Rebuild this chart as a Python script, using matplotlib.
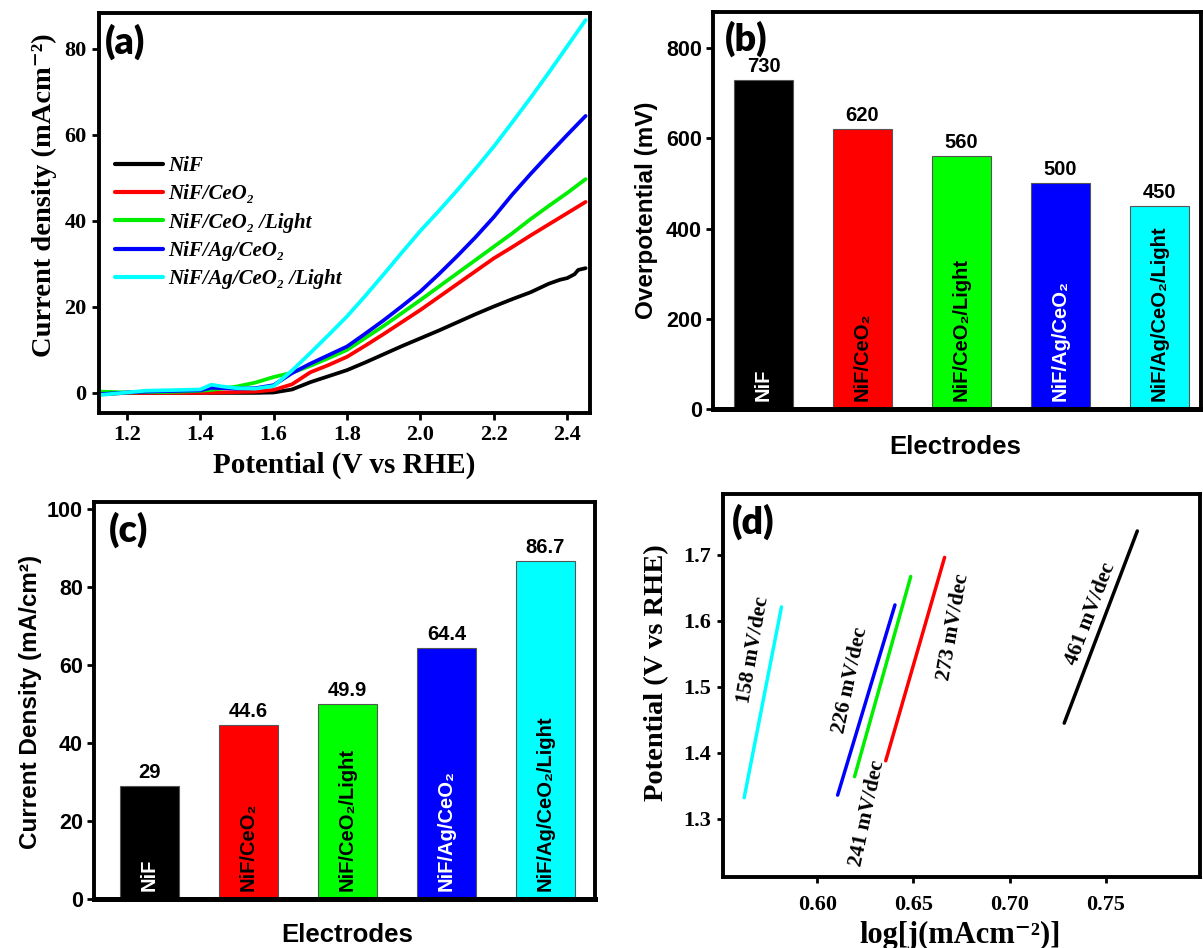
import matplotlib
matplotlib.use('Agg')
import matplotlib.pyplot as plt

# ---------------- data ----------------
series_labels = ['NiF', 'NiF/CeO₂', 'NiF/CeO₂ /Light', 'NiF/Ag/CeO₂', 'NiF/Ag/CeO₂ /Light']
series_colors = ['#000000', '#ff0000', '#00ee00', '#0000ff', '#00ffff']

potential = [1.125, 1.20, 1.25, 1.30, 1.35, 1.40, 1.43, 1.46, 1.50, 1.55,
             1.60, 1.65, 1.70, 1.75, 1.80, 1.85, 1.90, 1.95, 2.00, 2.05,
             2.10, 2.15, 2.20, 2.25, 2.30, 2.35, 2.40, 2.45]
potential_nif = [1.125, 1.20, 1.25, 1.30, 1.35, 1.40, 1.43, 1.46, 1.50, 1.55,
                 1.60, 1.65, 1.70, 1.75, 1.80, 1.85, 1.90, 1.95, 2.00, 2.05,
                 2.10, 2.15, 2.20, 2.25, 2.30, 2.35, 2.38, 2.40, 2.42, 2.43, 2.45]
j_nif = [-0.3, 0, 0, 0, 0, 0, 0, 0, 0, 0,
         0.1, 0.8, 2.5, 3.9, 5.3, 7.1, 9.0, 10.9, 12.7, 14.5,
         16.4, 18.3, 20.1, 21.8, 23.4, 25.4, 26.3, 26.7, 27.6, 28.6, 29.0]
j_ceo2 = [-0.2, 0, 0, 0, 0, 0, 0.05, 0.1, 0.2, 0.3,
          0.7, 2.0, 4.8, 6.5, 8.4, 11.0, 13.7, 16.5, 19.3, 22.3,
          25.3, 28.3, 31.3, 33.9, 36.6, 39.2, 41.8, 44.4]
j_ceo2_light = [0.3, 0.1, 0.2, 0.2, 0.3, 0.5, 0.7, 1.0, 1.5, 2.4,
                3.7, 4.7, 6.3, 8.1, 10.0, 12.8, 15.6, 18.6, 21.6, 24.7,
                27.8, 30.9, 34.0, 37.1, 40.4, 43.5, 46.5, 49.7]
j_ag_ceo2 = [-0.3, 0.1, 0.3, 0.4, 0.5, 0.6, 1.2, 1.1, 1.0, 1.1,
             1.8, 4.6, 6.8, 8.8, 10.8, 13.8, 16.9, 20.2, 23.6, 27.6,
             31.8, 36.2, 40.9, 46.1, 50.9, 55.5, 60.0, 64.4]
j_ag_ceo2_light = [-0.5, 0.1, 0.5, 0.6, 0.7, 0.8, 1.9, 1.5, 1.1, 1.0,
                   1.6, 5.2, 9.3, 13.5, 17.8, 22.6, 27.6, 32.7, 37.7, 42.3,
                   47.1, 52.1, 57.3, 62.9, 68.6, 74.5, 80.6, 86.7]

electrodes = ['NiF', 'NiF/CeO₂', 'NiF/CeO₂/Light', 'NiF/Ag/CeO₂', 'NiF/Ag/CeO₂/Light']
bar_colors = ['#000000', '#ff0000', '#00ff00', '#0000ff', '#00ffff']
inner_text_colors = ['white', 'black', 'black', 'white', 'black']
overpotential = [730, 620, 560, 500, 450]
overpotential_text = ['730', '620', '560', '500', '450']
current_density = [29, 44.6, 49.9, 64.4, 86.7]
current_density_text = ['29', '44.6', '49.9', '64.4', '86.7']

tafel_x = [[0.562, 0.5706, 0.5814], [0.6106, 0.6404], [0.6194, 0.6486],
           [0.6356, 0.6662], [0.7284, 0.7664]]
tafel_y = [[1.332, 1.46, 1.621], [1.336, 1.624], [1.364, 1.667],
           [1.388, 1.696], [1.445, 1.736]]
tafel_colors = ['#00ffff', '#0000ff', '#00ee00', '#ff0000', '#000000']
tafel_labels = ['158 mV/dec', '226 mV/dec', '241 mV/dec', '273 mV/dec', '461 mV/dec']

# ---------------- style ----------------
SERIF = ['Liberation Serif', 'DejaVu Serif']
SANS = ['Liberation Sans', 'DejaVu Sans']
PANEL = ['Lato', 'Liberation Sans', 'DejaVu Sans']

W, H = 1203, 948
fig = plt.figure(figsize=(W / 100, H / 100), dpi=100)


def px_axes(l, t, r, b):
    return fig.add_axes([l / W, 1 - b / H, (r - l) / W, (b - t) / H])


def frame(ax, lw=2.6):
    for s in ax.spines.values():
        s.set_linewidth(lw)
        s.set_color('black')


axA = px_axes(99, 12.7, 590, 412.7)
axB = px_axes(713, 12, 1201, 409)
axC = px_axes(94, 502, 595, 899)
axD = px_axes(723, 494, 1200, 877)

# ---------------- (a) ----------------
all_j = [j_nif, j_ceo2, j_ceo2_light, j_ag_ceo2, j_ag_ceo2_light]
for k, (lab, col, jv) in enumerate(zip(series_labels, series_colors, all_j)):
    xs = potential_nif if k == 0 else potential
    axA.plot(xs, jv, color=col, lw=2.7, label=lab, solid_capstyle='round',
             solid_joinstyle='round')
axA.set_xlim(1.124, 2.462)
axA.set_ylim(-4.6, 88.4)
axA.set_xticks([1.2, 1.4, 1.6, 1.8, 2.0, 2.2, 2.4])
axA.set_yticks([0, 20, 40, 60, 80])
frame(axA, 2.8)
axA.tick_params(direction='out', length=5, width=2, labelsize=16, pad=4)
for t in axA.get_xticklabels() + axA.get_yticklabels():
    t.set_family(SERIF)
    t.set_fontweight('bold')
axA.set_xlabel('Potential (V vs RHE)', family=SERIF, fontweight='bold', fontsize=21, va='center')
axA.xaxis.set_label_coords(0.5, (412.7 - 465) / 400)
axA.set_ylabel('Current density (mAcm⁻²)', family=SERIF, fontweight='bold', fontsize=20.5, va='center')
axA.yaxis.set_label_coords((44 - 99) / 491, (412.7 - 195) / 400)
leg = axA.legend(loc='upper left', bbox_to_anchor=(0.033, 0.642), frameon=False,
                 borderpad=0, borderaxespad=0, handlelength=2.3, handletextpad=0.25,
                 labelspacing=0.4, prop={'family': SERIF, 'weight': 'bold',
                                         'style': 'italic', 'size': 15})
for h in leg.get_lines():
    h.set_linewidth(3)
axA.text(0.012, 0.927, '(a)', transform=axA.transAxes, family=PANEL, fontweight='heavy',
         fontsize=27, ha='left', va='center')


# ---------------- bar panels ----------------
def bar_panel(ax, values, texts, ylim, yticks, ylabel, ylab_xy, xlab_xy, panel, panel_xy, xlim):
    idx = list(range(len(values)))
    ax.bar(idx, values, width=0.6, color=bar_colors, edgecolor='#555555', linewidth=0.8)
    for i, (v, t) in enumerate(zip(values, texts)):
        ax.annotate(t, (i, v), xytext=(0, 3), textcoords='offset points', ha='center',
                    va='bottom', family=SANS, fontweight='bold', fontsize=14.5)
        ax.annotate(electrodes[i], (i, 0), xytext=(0, 6), textcoords='offset points',
                    rotation=90, ha='center', va='bottom', family=SANS, fontweight='bold',
                    fontsize=14.5, color=inner_text_colors[i])
    ax.set_xlim(*xlim)
    ax.set_ylim(*ylim)
    ax.set_yticks(yticks)
    ax.set_xticks([])
    frame(ax, 2.8)
    ax.spines['bottom'].set_linewidth(3.6)
    ax.tick_params(axis='y', direction='out', length=5, width=2, labelsize=15.5, pad=3)
    for t in ax.get_yticklabels():
        t.set_family(SANS)
        t.set_fontweight('bold')
    ax.set_ylabel(ylabel, family=SANS, fontweight='bold', fontsize=17.5, va='center')
    ax.yaxis.set_label_coords(*ylab_xy)
    ax.set_xlabel('Electrodes', family=SANS, fontweight='bold', fontsize=18.5, va='center')
    ax.xaxis.set_label_coords(*xlab_xy)
    ax.text(panel_xy[0], panel_xy[1], panel, transform=ax.transAxes, family=PANEL,
            fontweight='heavy', fontsize=27, ha='left', va='center')


bar_panel(axB, overpotential, overpotential_text, (0, 880), [0, 200, 400, 600, 800],
          'Overpotential (mV)', ((647 - 713) / 488, 0.5), (0.496, (409 - 447) / 397),
          '(b)', (0.025, (409 - 39) / 397), (-0.51, 4.42))
bar_panel(axC, current_density, current_density_text, (0, 101.8), [0, 20, 40, 60, 80, 100],
          'Current Density (mA/cm²)', ((31 - 94) / 501, 0.497), (0.505, (899 - 935) / 397),
          '(c)', (0.03, (899 - 530) / 397), (-0.56, 4.5))

# ---------------- (d) ----------------
for xs, ys, col in zip(tafel_x, tafel_y, tafel_colors):
    axD.plot(xs, ys, color=col, lw=2.5, solid_capstyle='round')
label_pos = [(0.567, 1.556, 80), (0.617, 1.51, 78), (0.626, 1.309, 78),
             (0.6706, 1.591, 80), (0.742, 1.61, 69)]
for (x, y, rot), t in zip(label_pos, tafel_labels):
    axD.text(x, y, t, rotation=rot, rotation_mode='anchor', ha='center', va='center',
             family=SERIF, fontweight='bold', fontsize=15.5)
axD.set_xlim(0.551, 0.799)
axD.set_ylim(1.212, 1.792)
axD.set_xticks([0.60, 0.65, 0.70, 0.75])
axD.set_xticklabels(['0.60', '0.65', '0.70', '0.75'])
axD.set_yticks([1.3, 1.4, 1.5, 1.6, 1.7])
frame(axD, 2.8)
axD.tick_params(direction='out', length=4.5, width=2, labelsize=16, pad=4)
axD.tick_params(axis='x', pad=8.5)
for t in axD.get_xticklabels() + axD.get_yticklabels():
    t.set_family(SERIF)
    t.set_fontweight('bold')
axD.set_ylabel('Potential (V vs RHE)', family=SERIF, fontweight='bold', fontsize=20.5, va='center')
axD.yaxis.set_label_coords((657 - 723) / 477, 0.534)
axD.set_xlabel('log[j(mAcm⁻²)]', family=SERIF, fontweight='bold', fontsize=22, va='center')
axD.xaxis.set_label_coords(0.498, (877 - 935) / 383)
axD.text(0.018, (877 - 522) / 383, '(d)', transform=axD.transAxes, family=PANEL,
         fontweight='heavy', fontsize=27, ha='left', va='center')

fig.savefig('out.png', dpi=100)
